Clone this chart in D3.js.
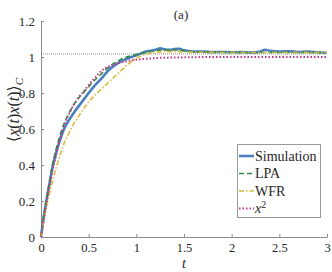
<!DOCTYPE html>
<html><head><meta charset="utf-8">
<script src="https://cdn.jsdelivr.net/npm/d3@7"></script>
<style>
html,body{margin:0;padding:0;background:#fff;}
svg{display:block;}
svg text{font-family:"Liberation Serif","Times New Roman","DejaVu Serif",serif;}
</style></head>
<body><svg id="c" width="332" height="272"></svg>
<script>
const xTicks = [0,0.5,1,1.5,2,2.5,3];
const xTickLabels = ["0","0.5","1","1.5","2","2.5","3"];
const yTicks = [0,0.2,0.4,0.6,0.8,1,1.2];
const yTickLabels = ["0","0.2","0.4","0.6","0.8","1","1.2"];
const refLevel = 1.017;

const seriesNames = ["Simulation","LPA","WFR","x2"];

const tSim = [0,0.02,0.05,0.08,0.12,0.16,0.2,0.25,0.3,0.35,0.4,0.45,0.5,0.55,0.6,0.65,0.7,0.75,0.8,0.85,0.9,0.95,1.0,1.05,1.1,1.15,1.2,1.25,1.3,1.35,1.4,1.45,1.5,1.55,1.6,1.7,1.8,1.9,2.0,2.1,2.2,2.3,2.35,2.4,2.5,2.6,2.7,2.8,2.9,3.0];
const ySim = [0,0.08,0.18,0.27,0.385,0.47,0.54,0.61,0.655,0.695,0.73,0.765,0.80,0.833,0.862,0.89,0.922,0.945,0.963,0.978,0.99,1.0,1.01,1.02,1.03,1.035,1.04,1.048,1.042,1.04,1.044,1.045,1.037,1.033,1.03,1.03,1.027,1.028,1.026,1.027,1.025,1.03,1.04,1.034,1.03,1.032,1.028,1.03,1.026,1.022];

const tLPA = [0,0.02,0.05,0.08,0.12,0.16,0.2,0.25,0.3,0.35,0.4,0.45,0.5,0.55,0.6,0.65,0.7,0.75,0.8,0.85,0.9,0.95,1.0,1.1,1.2,1.3,1.4,1.5,1.6,1.8,2.0,2.5,3.0];
const yLPA = [0,0.08,0.19,0.28,0.40,0.49,0.565,0.64,0.695,0.74,0.775,0.805,0.835,0.865,0.89,0.915,0.94,0.96,0.975,0.99,1.0,1.008,1.015,1.025,1.035,1.04,1.04,1.035,1.03,1.028,1.026,1.025,1.025];

const tWFR = [0,0.02,0.05,0.08,0.12,0.16,0.2,0.25,0.3,0.35,0.4,0.45,0.5,0.55,0.6,0.65,0.7,0.75,0.8,0.85,0.9,0.95,1.0,1.05,1.1,1.2,1.3,1.4,1.5,1.75,2.0,2.5,3.0];
const yWFR = [0,0.06,0.145,0.22,0.31,0.385,0.455,0.53,0.585,0.635,0.675,0.715,0.75,0.78,0.805,0.83,0.855,0.88,0.905,0.93,0.955,0.975,0.992,1.005,1.015,1.025,1.03,1.03,1.028,1.026,1.025,1.025,1.024];

const tX2 = [0,0.02,0.05,0.08,0.12,0.16,0.2,0.25,0.3,0.35,0.4,0.45,0.5,0.55,0.6,0.65,0.7,0.75,0.8,0.9,1.0,1.1,1.2,1.4,1.6,2.0,3.0];
const yX2 = [0,0.07,0.17,0.26,0.37,0.46,0.545,0.63,0.69,0.74,0.78,0.81,0.845,0.875,0.905,0.93,0.945,0.955,0.963,0.977,0.985,0.99,0.994,0.997,0.999,1.0,1.0];

const W = 332, H = 272;
const m = {left:41, right:5, top:21, bottom:35};
const svg = d3.select("#c");
const x = d3.scaleLinear().domain([0,3]).range([m.left, W - m.right]);
const y = d3.scaleLinear().domain([0,1.2]).range([H - m.bottom, m.top]);

const axisCol = "#8a8a8a";
const textCol = "#262626";
const FONT = '"Liberation Serif","Times New Roman","DejaVu Serif",serif';

// axes
const gx = svg.append("g").attr("transform",`translate(0,${y(0)})`)
  .call(d3.axisBottom(x).tickValues(xTicks).tickFormat((d,i)=>xTickLabels[i]).tickSizeInner(-3).tickSizeOuter(0).tickPadding(6));
const gy = svg.append("g").attr("transform",`translate(${x(0)},0)`)
  .call(d3.axisLeft(y).tickValues(yTicks).tickFormat((d,i)=>yTickLabels[i]).tickSizeInner(-3).tickSizeOuter(0).tickPadding(6));
[gx,gy].forEach(g=>{
  g.attr("font-family",FONT).attr("font-size",13);
  g.select(".domain").attr("stroke",axisCol).attr("stroke-width",1);
  g.selectAll(".tick line").attr("stroke",axisCol);
  g.selectAll(".tick text").attr("fill",textCol);
});
gx.attr("font-size",12.5);

// reference line
svg.append("line").attr("x1",x(0)).attr("x2",x(3)).attr("y1",y(refLevel)).attr("y2",y(refLevel))
  .attr("stroke","#777").attr("stroke-width",0.8).attr("stroke-dasharray","1,1");

const styles = {
  Simulation:{color:"#4a7fbd", width:2.6, dash:null},
  LPA:{color:"#2e8b3e", width:1.6, dash:"5,3"},
  WFR:{color:"#d8bb3c", width:1.6, dash:"5,2,1.5,2"},
  x2:{color:"#c23a8e", width:2, dash:"1.5,2"}
};
const data = {
  Simulation: tSim.map((t,i)=>[t,ySim[i]]),
  LPA: tLPA.map((t,i)=>[t,yLPA[i]]),
  WFR: tWFR.map((t,i)=>[t,yWFR[i]]),
  x2: tX2.map((t,i)=>[t,yX2[i]])
};
const line = d3.line().x(d=>x(d[0])).y(d=>y(d[1])).curve(d3.curveMonotoneX);
seriesNames.forEach(n=>{
  const s = styles[n];
  svg.append("path").datum(data[n]).attr("d",line).attr("fill","none")
    .attr("stroke",s.color).attr("stroke-width",s.width)
    .attr("stroke-dasharray",s.dash).attr("stroke-linejoin","round");
});

// title
svg.append("text").attr("x",181).attr("y",19).attr("text-anchor","middle")
  .attr("fill",textCol).attr("font-size",13).text("(a)");

// x label
svg.append("text").attr("x",184).attr("y",268).attr("text-anchor","middle")
  .attr("fill",textCol).attr("font-size",14).style("font-style","italic").text("t");

// y label
const yl = svg.append("text").attr("transform","translate(19,110) rotate(-90)").attr("text-anchor","middle")
  .attr("fill",textCol).attr("font-size",16);
yl.append("tspan").text("\u27E8");
yl.append("tspan").style("font-style","italic").text("x");
yl.append("tspan").text("(");
yl.append("tspan").style("font-style","italic").text("t");
yl.append("tspan").text(")");
yl.append("tspan").style("font-style","italic").text("x");
yl.append("tspan").text("(");
yl.append("tspan").style("font-style","italic").text("t");
yl.append("tspan").text(")\u27E9");
yl.append("tspan").style("font-style","italic").attr("font-size",11).attr("dy",4).text("C");

// legend
const lg = svg.append("g");
lg.append("rect").attr("x",237.5).attr("y",144.5).attr("width",83).attr("height",73)
  .attr("fill","#fff").attr("stroke","#999").attr("stroke-width",1);
const rowY = [156,173.5,191,208.5];
const labels = ["Simulation","LPA","WFR",null];
seriesNames.forEach((n,i)=>{
  const s = styles[n];
  lg.append("line").attr("x1",239).attr("x2",254).attr("y1",rowY[i]).attr("y2",rowY[i])
    .attr("stroke",s.color).attr("stroke-width",s.width).attr("stroke-dasharray",s.dash);
  const t = lg.append("text").attr("x",255).attr("y",rowY[i]+4.5).attr("fill",textCol).attr("font-size",14);
  if(labels[i]) t.text(labels[i]);
  else { t.append("tspan").style("font-style","italic").text("x"); t.append("tspan").attr("dy",-5).attr("font-size",10).text("2"); }
});
</script></body></html>
